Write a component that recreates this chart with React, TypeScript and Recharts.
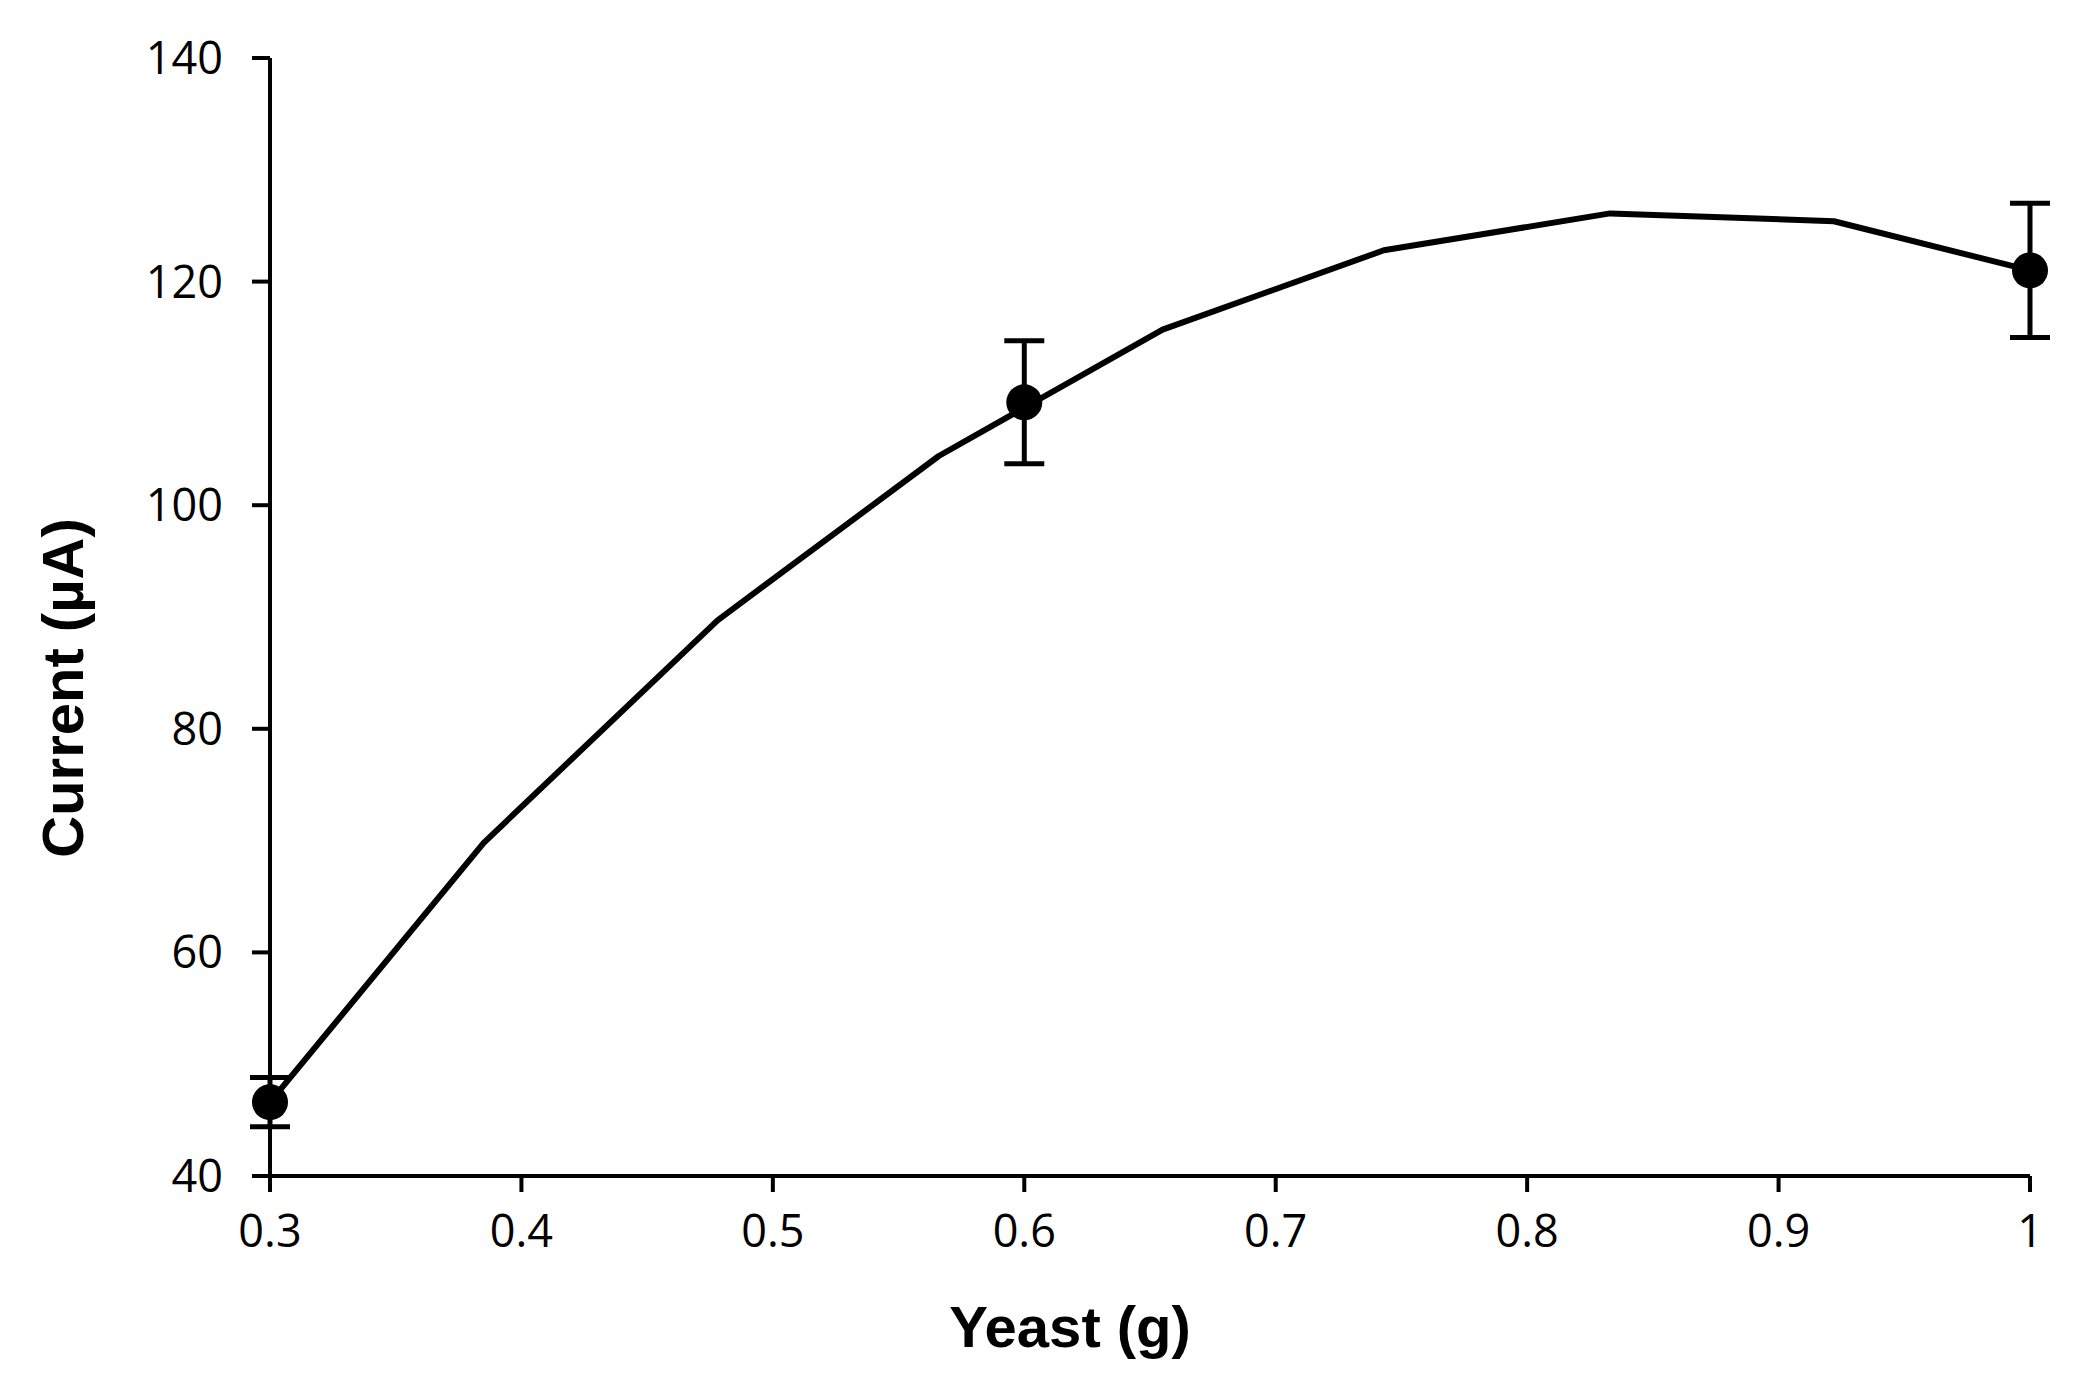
import React from 'react';
import { ScatterChart, Scatter, XAxis, YAxis, ErrorBar } from 'recharts';

// measured points with error bars
const pointX = [0.3, 0.6, 1.0];
const pointY = [46.6, 109.2, 121.0];
const pointErr = [2.2, 5.5, 6.0];

// fitted curve vertices
const fitX = [0.3, 0.385, 0.478, 0.566, 0.655, 0.743, 0.833, 0.922, 1.0];
const fitY = [46.6, 69.8, 89.7, 104.4, 115.7, 122.8, 126.1, 125.4, 121.0];

const xTicks = [0.3, 0.4, 0.5, 0.6, 0.7, 0.8, 0.9, 1];
const yTicks = [40, 60, 80, 100, 120, 140];

const points = pointX.map((x, i) => ({ x, y: pointY[i], err: pointErr[i] }));
const fit = fitX.map((x, i) => ({ x, y: fitY[i] }));

const tickFont = { fontFamily: 'Open Sans', fontSize: 45, fill: '#000' };
const titleFont = { fontFamily: 'Liberation Sans, Arial', fontSize: 58, fontWeight: 700, fill: '#000' };
const axisStroke = { stroke: '#000', strokeWidth: 4 };

const Dot = (props: any) => <circle cx={props.cx} cy={props.cy} r={18} fill="#000" />;
const NoDot = () => <g />;

export default function App() {
    return (
        <div style={{ position: 'absolute', left: 0, top: 0, background: '#fff' }}>
            <ScatterChart width={2089} height={1383} margin={{ top: 58, right: 59, left: 0, bottom: 0 }}>
                <XAxis
                    type="number"
                    dataKey="x"
                    domain={[0.3, 1]}
                    ticks={xTicks}
                    tickFormatter={(v) => String(v)}
                    height={207}
                    tick={tickFont}
                    tickSize={16}
                    tickMargin={23}
                    axisLine={axisStroke}
                    tickLine={axisStroke}
                    label={{
                        value: 'Yeast (g)',
                        content: () => (
                            <text x={1070} y={1347} textAnchor="middle" style={titleFont}>
                                Yeast (g)
                            </text>
                        ),
                    }}
                />
                <YAxis
                    type="number"
                    dataKey="y"
                    domain={[40, 140]}
                    ticks={yTicks}
                    width={270}
                    tick={tickFont}
                    tickSize={18}
                    tickMargin={29}
                    axisLine={axisStroke}
                    tickLine={axisStroke}
                    label={{
                        value: 'Current (µA)',
                        content: () => (
                            <text transform="translate(83, 688) rotate(-90)" textAnchor="middle" style={titleFont}>
                                Current (µA)
                            </text>
                        ),
                    }}
                />
                <Scatter
                    data={fit}
                    line={{ stroke: '#000', strokeWidth: 6, strokeLinejoin: 'round' }}
                    shape={NoDot}
                    isAnimationActive={false}
                />
                <Scatter data={points} shape={Dot} fill="#000" isAnimationActive={false}>
                    <ErrorBar dataKey="err" direction="y" width={20} strokeWidth={5} stroke="#000" />
                </Scatter>
            </ScatterChart>
        </div>
    );
}
